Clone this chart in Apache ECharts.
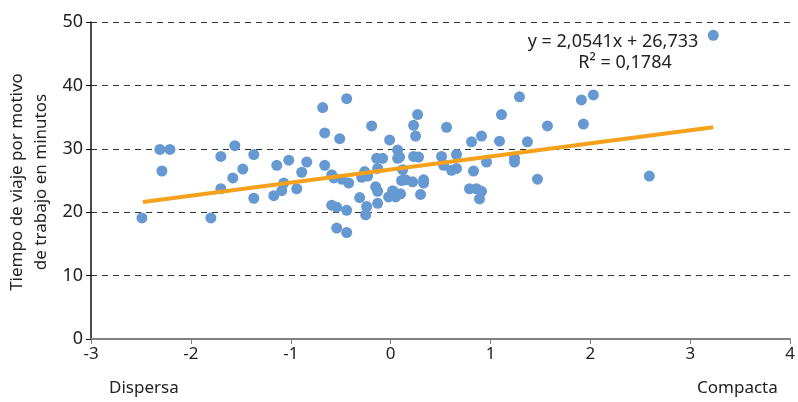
<!DOCTYPE html>
<html>
<head>
<meta charset="utf-8">
<script src="https://cdn.jsdelivr.net/npm/echarts@6/dist/echarts.min.js"></script>
<style>html,body{margin:0;padding:0;background:#fff;}#c{width:798px;height:402px;}</style>
</head>
<body>
<div id="c"></div>
<script>
// Density index (x) values
const densityX = [
-2.49,-2.31,-2.21,-2.29,-1.80,-1.70,-1.70,-1.56,-1.58,-1.48,
-1.37,-1.37,-1.14,-1.17,-1.09,-1.07,-1.02,-0.94,-0.89,-0.84,
-0.68,-0.66,-0.66,-0.59,-0.57,-0.49,-0.42,-0.59,-0.54,-0.44,
-0.54,-0.44,-0.51,-0.44,-0.31,-0.25,-0.24,-0.29,-0.26,-0.23,
-0.19,-0.15,-0.13,-0.13,-0.14,-0.08,-0.13,-0.01,-0.02,0.03,
0.05,0.10,0.07,0.07,0.09,0.11,0.12,0.15,0.22,0.23,
0.25,0.27,0.23,0.28,0.33,0.33,0.30,0.51,0.53,0.56,
0.61,0.66,0.66,0.79,0.86,0.91,0.89,0.83,0.81,0.91,
0.96,1.09,1.11,1.24,1.24,1.29,1.37,1.47,1.57,1.91,
1.93,2.03,2.59,3.23,0.02
];
// Travel time (minutes)
const travelY = [
19.1,29.9,29.9,26.5,19.1,28.8,23.7,30.5,25.4,26.8,
29.1,22.2,27.4,22.6,23.4,24.6,28.2,23.7,26.3,27.9,
36.5,32.5,27.4,25.9,25.4,25.2,24.6,21.1,20.8,20.3,
17.5,16.8,31.6,37.9,22.3,19.6,20.9,25.5,26.4,25.7,
33.6,24.0,23.3,21.4,28.5,28.5,26.9,31.4,22.4,23.2,
22.4,22.9,29.8,28.5,28.7,25.0,26.7,25.1,24.8,33.7,
32.0,35.4,28.8,28.7,25.1,24.6,22.8,28.8,27.4,33.4,
26.6,26.9,29.1,23.7,23.7,23.3,22.1,26.5,31.1,32.0,
27.9,31.2,35.4,28.5,27.9,38.2,31.1,25.2,33.6,37.7,
33.9,38.5,25.7,47.9,23.4
];
// Trend line endpoints
const trendX = [-2.48, 3.23];
const trendY = [21.6, 33.4];
const xTicks = [-3,-2,-1,0,1,2,3,4];
const yTicks = [0,10,20,30,40,50];
const yTitle = ['Tiempo de viaje por motivo','de trabajo en minutos'];
const leftLabel = 'Dispersa';
const rightLabel = 'Compacta';
const eqText = 'y = 2,0541x + 26,733';
const r2Text = 'R² = 0,1784';

const FONT = 'Noto Sans';
const chart = echarts.init(document.getElementById('c'), null, {renderer:'canvas'});
chart.setOption({
  animation:false,
  backgroundColor:'#fff',
  grid:{left:91, right:5, top:22, bottom:63},
  xAxis:{
    type:'value', min:xTicks[0], max:xTicks[xTicks.length-1], interval:1,
    axisLine:{onZero:false, lineStyle:{color:'#808080', width:2}},
    axisTick:{show:true, length:5, lineStyle:{color:'#808080', width:1}},
    axisLabel:{color:'#222', fontSize:17, fontFamily:FONT, margin:7},
    splitLine:{show:false}
  },
  yAxis:{
    type:'value', min:yTicks[0], max:yTicks[yTicks.length-1], interval:10,
    axisLine:{show:true, onZero:false, lineStyle:{color:'#111', width:1.5}},
    axisTick:{show:true, length:5, lineStyle:{color:'#111', width:1}},
    axisLabel:{color:'#222', fontSize:18, fontFamily:FONT, margin:8},
    splitLine:{show:true, lineStyle:{color:'#333', type:[6,5], width:1}}
  },
  series:[
    {
      type:'scatter',
      data: densityX.map((x,i)=>[x, travelY[i]]),
      symbolSize:11,
      itemStyle:{color:'#6699d2', opacity:1},
      z:2
    },
    {
      type:'line',
      data: trendX.map((x,i)=>[x, trendY[i]]),
      symbol:'none',
      lineStyle:{color:'#f5a11c', width:4},
      z:3
    }
  ],
  graphic:[
    {type:'text', rotation:Math.PI/2, x:29, y:182, style:{text:yTitle.join('\n'), font:'17px "Noto Sans"', fill:'#222', textAlign:'center', textVerticalAlign:'middle', lineHeight:24}},
    {type:'text', left:109, top:380, style:{text:leftLabel, font:'17px "Noto Sans"', fill:'#222'}},
    {type:'text', left:697, top:380, style:{text:rightLabel, font:'17px "Noto Sans"', fill:'#222'}},
    {type:'text', x:613, y:42, style:{text:eqText, font:'18px "Noto Sans"', fill:'#222', textAlign:'center', textVerticalAlign:'middle'}},
    {type:'text', x:625, y:63, style:{text:r2Text, font:'18px "Noto Sans"', fill:'#222', textAlign:'center', textVerticalAlign:'middle'}}
  ]
});
</script>
</body>
</html>
